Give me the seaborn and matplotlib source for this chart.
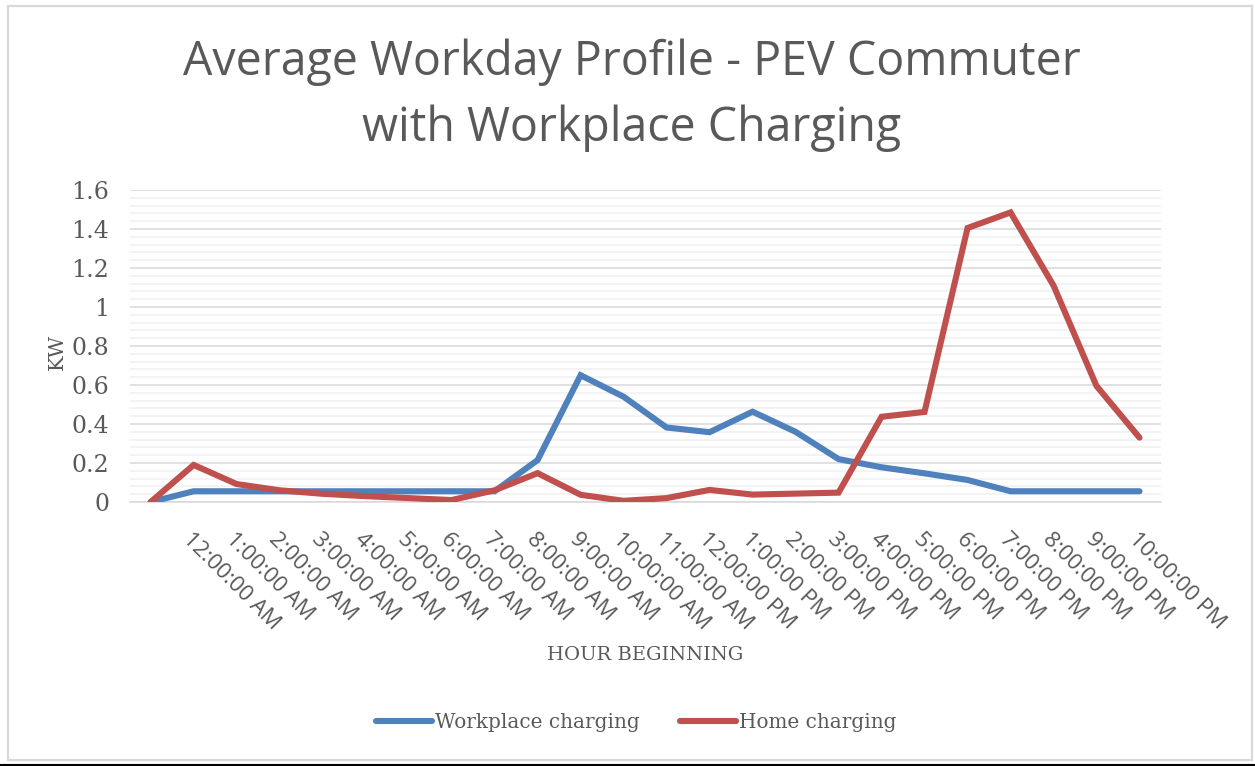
import matplotlib
matplotlib.use("Agg")
import matplotlib.pyplot as plt
import matplotlib.patches as mpatches
from matplotlib.lines import Line2D
from matplotlib.ticker import MultipleLocator
import seaborn as sns
import pandas as pd
import numpy as np

hours = ["", "12:00:00 AM", "1:00:00 AM", "2:00:00 AM", "3:00:00 AM", "4:00:00 AM",
         "5:00:00 AM", "6:00:00 AM", "7:00:00 AM", "8:00:00 AM", "9:00:00 AM",
         "10:00:00 AM", "11:00:00 AM", "12:00:00 PM", "1:00:00 PM", "2:00:00 PM",
         "3:00:00 PM", "4:00:00 PM", "5:00:00 PM", "6:00:00 PM", "7:00:00 PM",
         "8:00:00 PM", "9:00:00 PM", "10:00:00 PM"]

workplace = [0.0, 0.055, 0.055, 0.055, 0.055, 0.055, 0.055, 0.055, 0.055, 0.215,
             0.65, 0.54, 0.382, 0.358, 0.463, 0.36, 0.22, 0.178, 0.147, 0.113,
             0.055, 0.055, 0.055, 0.055]

home = [0.0, 0.19, 0.092, 0.06, 0.042, 0.03, 0.02, 0.01, 0.06, 0.148, 0.037,
        0.006, 0.02, 0.062, 0.038, 0.043, 0.048, 0.437, 0.462, 1.405, 1.485,
        1.11, 0.595, 0.33]

series_names = ["Workplace charging", "Home charging"]
colors = ["#4f81bd", "#c0504d"]

df = pd.DataFrame({
    "pos": list(range(len(hours))) * 2,
    "kw": workplace + home,
    "series": [series_names[0]] * len(hours) + [series_names[1]] * len(hours),
})

sns.set_style("white")
plt.rcParams["font.family"] = ["DejaVu Serif"]

W, H = 1255, 766
fig = plt.figure(figsize=(W / 100, H / 100), dpi=100)
ax = fig.add_axes([130 / W, 1 - 502 / H, (1161 - 130) / W, (502 - 190) / H])

LW = 4.4
sns.lineplot(data=df, x="pos", y="kw", hue="series", palette=colors, ax=ax,
             linewidth=LW, legend=False, solid_capstyle="round", sort=False)
for ln in ax.get_lines():
    ln.set_solid_joinstyle("miter")
    ln.set_zorder(3)

ax.set_xlim(-0.48, 23.5)
ax.set_ylim(0, 1.6)
ax.yaxis.set_major_locator(MultipleLocator(0.2))
ax.yaxis.set_minor_locator(MultipleLocator(0.04))
ax.grid(which="major", axis="y", color="#d9d9d9", linewidth=1.1)
ax.grid(which="minor", axis="y", color="#f0f0f0", linewidth=1.1)
ax.grid(False, axis="x")
ax.set_axisbelow(True)
for s in ["left", "right", "top"]:
    ax.spines[s].set_visible(False)
ax.spines["bottom"].set_color("#d9d9d9")
ax.spines["bottom"].set_linewidth(1.1)

ax.set_yticks(np.arange(0, 1.61, 0.2))
ax.set_yticklabels(["0", "0.2", "0.4", "0.6", "0.8", "1", "1.2", "1.4", "1.6"])
ax.tick_params(axis="y", which="both", length=0, pad=15, labelsize=17, labelcolor="#595959")

ax.set_xticks(range(len(hours)))
ax.set_xticklabels(hours, rotation=-45, ha="left", va="top", rotation_mode="anchor",
                   family=["Open Sans", "DejaVu Sans"], fontsize=16, color="#595959")
ax.tick_params(axis="x", length=0, pad=19)

ax.set_xlabel("HOUR BEGINNING", fontsize=14, color="#595959")
ax.set_ylabel("KW", fontsize=15, color="#595959")
ax.xaxis.set_label_coords((645 - 130) / (1161 - 130), -(646 - 502) / (502 - 190))
ax.yaxis.set_label_coords(-(130 - 67) / (1161 - 130), (502 - 352) / (502 - 190))

fig.text(632 / W, 1 - 95 / H, "Average Workday Profile - PEV Commuter\nwith Workplace Charging",
         ha="center", va="center", fontsize=33.5, color="#595959",
         family=["Open Sans", "DejaVu Sans"], linespacing=1.5)

handles = [Line2D([0], [0], color=c, linewidth=LW, solid_capstyle="round") for c in colors]
fig.legend(handles, series_names, loc="center", bbox_to_anchor=(636 / W, 1 - 722 / H),
           ncol=2, frameon=False, fontsize=14.4, labelcolor="#595959",
           handlelength=2.8, handletextpad=0.15, columnspacing=2.0)

fig.add_artist(mpatches.Rectangle((8 / W, 1 - 760 / H), (1252 - 8) / W, (760 - 6) / H,
                                  transform=fig.transFigure, fill=False,
                                  edgecolor="#d9d9d9", linewidth=1.6))
fig.add_artist(Line2D([0, 1], [1 - 765 / H, 1 - 765 / H], transform=fig.transFigure,
                      color="black", linewidth=1.5))

fig.savefig("out.png", dpi=100)
